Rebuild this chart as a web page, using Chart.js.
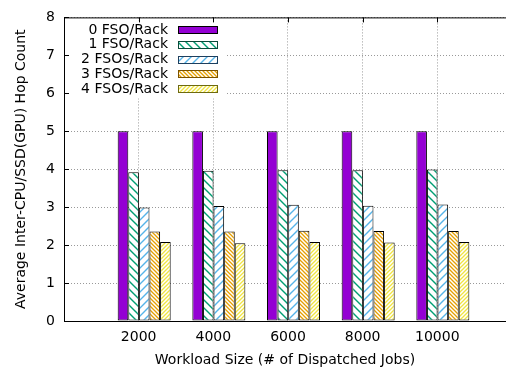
<!DOCTYPE html>
<html>
<head>
<meta charset="utf-8">
<script src="https://cdn.jsdelivr.net/npm/chart.js@4.4.0/dist/chart.umd.min.js"></script>
<style>
  html, body { margin: 0; padding: 0; background: #fff; }
  canvas { display: block; }
</style>
</head>
<body>
<canvas id="hops" width="506" height="369"></canvas>
<script>
// ===== DATA =====
const workloads = [2000, 4000, 6000, 8000, 10000];
const seriesLabels = ['0 FSO/Rack', '1 FSO/Rack', '2 FSOs/Rack', '3 FSOs/Rack', '4 FSOs/Rack'];
const fso0 = [5.00, 5.00, 5.00, 5.00, 5.00];
const fso1 = [3.92, 3.96, 3.97, 3.97, 3.99];
const fso2 = [2.99, 3.03, 3.06, 3.04, 3.07];
const fso3 = [2.36, 2.36, 2.38, 2.37, 2.37];
const fso4 = [2.08, 2.05, 2.08, 2.07, 2.08];
const yTicks = [0, 1, 2, 3, 4, 5, 6, 7, 8];

Chart.defaults.font.family = "'DejaVu Sans', sans-serif";
Chart.defaults.font.size = 14;
Chart.defaults.color = '#000';

const canvas = document.getElementById('hops');
const ctx = canvas.getContext('2d');

// hatched fills, gnuplot style
function hatch(color, dir, size, lw) {
  const c = document.createElement('canvas');
  c.width = size; c.height = size;
  const g = c.getContext('2d');
  g.fillStyle = '#fff';
  g.fillRect(0, 0, size, size);
  g.strokeStyle = color;
  g.lineWidth = lw;
  g.beginPath();
  if (dir === '/') {
    g.moveTo(-1, size + 1); g.lineTo(size + 1, -1);
    g.moveTo(-1, 1); g.lineTo(1, -1);
    g.moveTo(size - 1, size + 1); g.lineTo(size + 1, size - 1);
  } else {
    g.moveTo(-1, -1); g.lineTo(size + 1, size + 1);
    g.moveTo(size - 1, -1); g.lineTo(size + 1, 1);
    g.moveTo(-1, size - 1); g.lineTo(1, size + 1);
  }
  g.stroke();
  return ctx.createPattern(c, 'repeat');
}

const fills = [
  '#9400d3',
  hatch('#009e73', '\\', 8, 1.4),
  hatch('#56b4e9', '/', 8, 1.4),
  hatch('#e69f00', '\\', 4, 1.3),
  hatch('#f0e442', '/', 4, 1.3)
];
const keyBorders = ['#000', '#0b4a3a', '#1d3f5e', '#7a5200', '#6e6a10'];
const values = [fso0, fso1, fso2, fso3, fso4];

const datasets = values.map((vals, i) => ({
  label: seriesLabels[i],
  data: workloads.map((w, j) => ({ x: w, y: vals[j] })),
  xAxisID: 'xb',
  backgroundColor: fills[i],
  borderColor: '#000',
  borderWidth: 1,
  borderSkipped: false,
  categoryPercentage: 0.71,
  barPercentage: 1.0,
  keyBorder: keyBorders[i]
}));

// ===== KEY (opaque box, text right-aligned, sample on the right) =====
const keyBox = {
  id: 'keyBox',
  afterDatasetsDraw(chart) {
    const { ctx, chartArea } = chart;
    const L = chartArea.left, T = chartArea.top;
    ctx.save();
    ctx.fillStyle = '#fff';
    ctx.fillRect(L + 3, T + 3, 158, 78);
    ctx.font = "14px 'DejaVu Sans', sans-serif";
    ctx.textAlign = 'right';
    ctx.textBaseline = 'middle';
    chart.data.datasets.forEach((ds, i) => {
      const y = T + 12.5 + i * 14.8;
      ctx.fillStyle = '#000';
      ctx.fillText(ds.label, L + 104, y);
      ctx.fillStyle = ds.backgroundColor;
      ctx.fillRect(L + 114, Math.round(y) - 4, 40, 8);
      ctx.strokeStyle = ds.keyBorder;
      ctx.lineWidth = 1;
      ctx.strokeRect(L + 114.5, Math.round(y) - 3.5, 39, 7);
    });
    ctx.restore();
  }
};

// ===== FRAME: top border + inward tick marks =====
const frame = {
  id: 'frame',
  afterDraw(chart) {
    const { ctx, chartArea, scales } = chart;
    ctx.save();
    ctx.strokeStyle = '#000';
    ctx.lineWidth = 1;
    ctx.beginPath();
    ctx.moveTo(chartArea.left, chartArea.top + 0.5);
    ctx.lineTo(chartArea.right, chartArea.top + 0.5);
    yTicks.forEach(v => {
      const y = Math.round(scales.y.getPixelForValue(v)) + 0.5;
      ctx.moveTo(chartArea.left, y);
      ctx.lineTo(chartArea.left + 5, y);
    });
    workloads.forEach(v => {
      const x = Math.round(scales.x.getPixelForValue(v)) + 0.5;
      ctx.moveTo(x, chartArea.top);
      ctx.lineTo(x, chartArea.top + 5);
    });
    ctx.stroke();
    ctx.restore();
  }
};

new Chart(canvas, {
  type: 'bar',
  data: { datasets },
  options: {
    responsive: false,
    animation: false,
    devicePixelRatio: 1,
    layout: { padding: { top: 11, right: 0, left: 0, bottom: 0 } },
    plugins: { legend: { display: false }, tooltip: { enabled: false } },
    scales: {
      x: {
        type: 'linear',
        position: 'bottom',
        min: 0,
        max: 11840,
        offset: false,
        afterBuildTicks: s => { s.ticks = workloads.map(v => ({ value: v })); },
        afterFit: s => { s.height = 48; },
        grid: { color: '#999', drawTicks: false, offset: false },
        border: { display: true, color: '#000', width: 1, dash: [1, 2] },
        ticks: { padding: 8, font: { size: 14 }, callback: v => String(v) },
        title: {
          display: true,
          text: 'Workload Size (# of Dispatched Jobs)',
          font: { size: 14 },
          padding: { top: 4, bottom: 0 }
        }
      },
      // hidden axis carrying the bars, shifted a touch right like gnuplot's histogram
      xb: {
        type: 'linear',
        display: false,
        min: -148,
        max: 11692,
        offset: false,
        afterBuildTicks: s => { s.ticks = workloads.map(v => ({ value: v })); }
      },
      y: {
        min: 0,
        max: 8,
        afterFit: s => { s.width = 64; },
        afterBuildTicks: s => { s.ticks = yTicks.map(v => ({ value: v })); },
        grid: { color: '#999', drawTicks: false },
        border: { display: true, color: '#000', width: 1, dash: [1, 2] },
        ticks: { padding: 9, font: { size: 14 } },
        title: {
          display: true,
          text: 'Average Inter-CPU/SSD(GPU) Hop Count',
          font: { size: 14 },
          padding: { top: 13, bottom: 0 }
        }
      }
    }
  },
  plugins: [keyBox, frame]
});
</script>
</body>
</html>
